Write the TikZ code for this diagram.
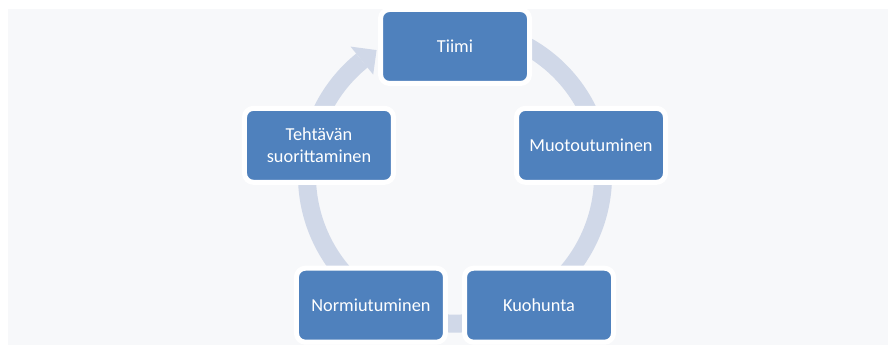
\documentclass[tikz,border=0pt]{standalone}
\usepackage{fontspec}
\setmainfont{Carlito}
\definecolor{bgcol}{RGB}{247,248,250}
\definecolor{ringcol}{RGB}{208,216,232}
\definecolor{boxcol}{RGB}{79,129,189}
\tikzset{
  phase/.style={draw=white, line width=5pt, fill=boxcol, rounded corners=9pt,
    minimum width=149pt, minimum height=74pt, inner sep=0pt,
    text=white, align=center, font=\fontsize{18.3}{22}\selectfont},
}

\begin{document}
\begin{tikzpicture}[x=1pt, y=1pt, line join=round]
      \def\R{143}
      \def\r{148}
      \def\w{18}
      \useasboundingbox (-455,-155.5) rectangle (435,189.5);
      \fill[bgcol] (-447,-155.5) rectangle (433,180.5);
      \coordinate (M) at (0,13.9);
      % ring with its arrow head
      \draw[ringcol, line width=\w] ([shift={(65:\r)}]M) arc[start angle=65, end angle=-231, radius=\r];
      \fill[ringcol] ([shift={(129:{\r+\w})}]M) -- ([shift={(122:\r)}]M) -- ([shift={(129:{\r-\w})}]M) -- cycle;
      % phases
      \node[phase] (tiimi) at (90:\R) {Tiimi};
      \node[phase] (muoto) at (18:\R) {Muotoutuminen};
      \node[phase] (kuoh) at (-54:\R) {Kuohunta};
      \node[phase] (normi) at (-126:\R) {Normiutuminen};
      \node[phase] (teht) at (162:\R) {Tehtävän\\suorittaminen};
    \end{tikzpicture}
\end{document}
